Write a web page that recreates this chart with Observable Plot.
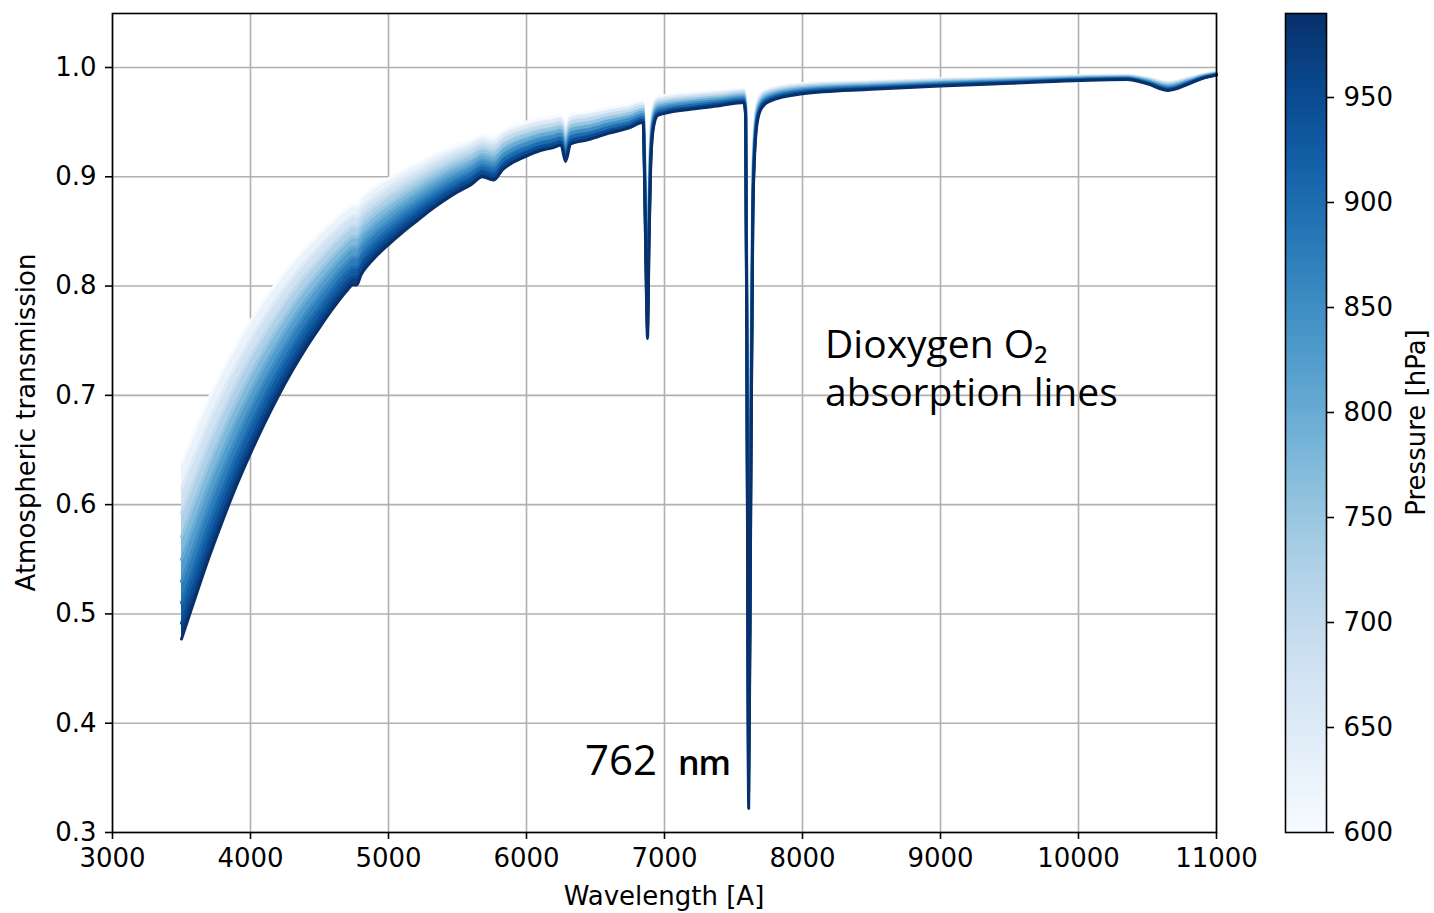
<!DOCTYPE html>
<html><head><meta charset="utf-8">
<script src="https://cdn.jsdelivr.net/npm/d3@7"></script>
<script src="https://cdn.jsdelivr.net/npm/@observablehq/plot@0.6"></script>
<style>
html,body{margin:0;padding:0;background:#fff;}
#wrap{position:relative;width:1434px;height:913px;overflow:hidden;}
#main{position:absolute;left:0;top:0;}
#cbar{position:absolute;left:1260px;top:0;}
svg{display:block;}
</style></head><body>
<div id="wrap"><div id="main"></div><div id="cbar"></div></div>
<script>
// ---------- data ----------
const wavelength = [3500,3550,3600,3700,3800,3900,4000,4100,4200,4300,
 4400,4500,4600,4700,4740,4770,4800,4850,4900,5000,
 5100,5200,5300,5400,5500,5600,5680,5760,5830,5900,
 6000,6100,6200,6250,6283,6320,6450,6600,6750,6845,
 6855,6865,6877,6888,6900,6920,6950,7000,7200,7400,
 7575,7588,7600,7610,7625,7640,7655,7675,7710,7760,
 8000,8500,9000,9500,10000,10350,10500,10650,10800,10900,11000];

const pressures = [600, 650, 700, 750, 800, 850, 900, 950, 990];

const trans600 = [0.6385,0.6538,0.6688,0.6977,0.7233,0.7470,0.7681,0.7873,0.8049,0.8208,
 0.8353,0.8481,0.8602,0.8708,0.8741,0.8741,0.8801,0.8860,0.8907,0.8984,
 0.9056,0.9120,0.9184,0.9241,0.9293,0.9337,0.9381,0.9362,0.9425,0.9463,
 0.9501,0.9532,0.9551,0.9564,0.9470,0.9570,0.9594,0.9632,0.9663,0.9694,
 0.9381,0.8867,0.8414,0.8997,0.9444,0.9663,0.9731,0.9743,0.9768,0.9786,
 0.9805,0.9725,0.7485,0.5032,0.7337,0.9127,0.9538,0.9706,0.9780,0.9811,
 0.9854,0.9878,0.9897,0.9912,0.9927,0.9933,0.9909,0.9872,0.9909,0.9939,0.9958];
const trans650 = [0.6151,0.6310,0.6467,0.6771,0.7040,0.7291,0.7514,0.7718,0.7905,0.8074,
 0.8229,0.8365,0.8495,0.8608,0.8644,0.8644,0.8708,0.8771,0.8821,0.8904,
 0.8981,0.9050,0.9119,0.9181,0.9236,0.9284,0.9331,0.9311,0.9379,0.9420,
 0.9461,0.9494,0.9515,0.9528,0.9427,0.9535,0.9561,0.9602,0.9635,0.9669,
 0.9331,0.8779,0.8294,0.8918,0.9399,0.9635,0.9709,0.9722,0.9749,0.9768,
 0.9789,0.9703,0.7307,0.4752,0.7150,0.9058,0.9500,0.9682,0.9762,0.9795,
 0.9842,0.9868,0.9889,0.9905,0.9921,0.9927,0.9901,0.9862,0.9901,0.9934,0.9954];
const trans700 = [0.5925,0.6091,0.6254,0.6571,0.6853,0.7116,0.7351,0.7566,0.7763,0.7942,
 0.8106,0.8251,0.8389,0.8510,0.8547,0.8547,0.8616,0.8683,0.8737,0.8825,
 0.8907,0.8981,0.9055,0.9121,0.9180,0.9231,0.9282,0.9260,0.9333,0.9377,
 0.9420,0.9456,0.9478,0.9493,0.9384,0.9500,0.9528,0.9572,0.9608,0.9644,
 0.9282,0.8691,0.8175,0.8840,0.9354,0.9608,0.9687,0.9701,0.9730,0.9751,
 0.9773,0.9680,0.7132,0.4488,0.6968,0.8989,0.9463,0.9658,0.9744,0.9780,
 0.9830,0.9858,0.9880,0.9897,0.9915,0.9922,0.9894,0.9851,0.9894,0.9929,0.9951];
const trans750 = [0.5708,0.5879,0.6048,0.6377,0.6670,0.6945,0.7191,0.7417,0.7624,0.7813,
 0.7985,0.8139,0.8285,0.8412,0.8452,0.8452,0.8525,0.8596,0.8653,0.8747,
 0.8834,0.8912,0.8991,0.9061,0.9124,0.9178,0.9233,0.9209,0.9287,0.9334,
 0.9380,0.9419,0.9442,0.9458,0.9342,0.9465,0.9495,0.9542,0.9580,0.9619,
 0.9233,0.8604,0.8058,0.8762,0.9310,0.9580,0.9665,0.9680,0.9711,0.9733,
 0.9757,0.9658,0.6962,0.4238,0.6790,0.8921,0.9426,0.9634,0.9726,0.9764,
 0.9818,0.9848,0.9872,0.9890,0.9909,0.9916,0.9886,0.9841,0.9886,0.9924,0.9947];
const trans800 = [0.5498,0.5674,0.5848,0.6188,0.6493,0.6778,0.7035,0.7271,0.7487,0.7686,
 0.7866,0.8028,0.8181,0.8316,0.8358,0.8358,0.8435,0.8510,0.8570,0.8669,
 0.8761,0.8844,0.8927,0.9002,0.9068,0.9126,0.9184,0.9159,0.9241,0.9291,
 0.9340,0.9381,0.9406,0.9423,0.9300,0.9430,0.9462,0.9512,0.9553,0.9594,
 0.9184,0.8518,0.7943,0.8686,0.9266,0.9553,0.9643,0.9659,0.9692,0.9716,
 0.9741,0.9636,0.6796,0.4002,0.6617,0.8853,0.9389,0.9611,0.9708,0.9749,
 0.9806,0.9838,0.9863,0.9883,0.9903,0.9911,0.9879,0.9830,0.9879,0.9919,0.9944];
const trans850 = [0.5296,0.5477,0.5655,0.6005,0.6320,0.6616,0.6882,0.7128,0.7353,0.7560,
 0.7749,0.7919,0.8079,0.8221,0.8265,0.8265,0.8345,0.8425,0.8488,0.8592,
 0.8689,0.8777,0.8864,0.8943,0.9013,0.9074,0.9135,0.9109,0.9196,0.9248,
 0.9300,0.9344,0.9370,0.9388,0.9258,0.9396,0.9430,0.9483,0.9526,0.9569,
 0.9135,0.8433,0.7830,0.8609,0.9222,0.9526,0.9621,0.9638,0.9673,0.9699,
 0.9725,0.9614,0.6634,0.3780,0.6449,0.8786,0.9352,0.9587,0.9690,0.9734,
 0.9794,0.9828,0.9855,0.9875,0.9897,0.9905,0.9871,0.9820,0.9871,0.9913,0.9940];
const trans900 = [0.5102,0.5286,0.5468,0.5828,0.6151,0.6457,0.6732,0.6987,0.7221,0.7437,
 0.7634,0.7811,0.7979,0.8127,0.8172,0.8172,0.8257,0.8340,0.8406,0.8516,
 0.8617,0.8710,0.8801,0.8884,0.8958,0.9022,0.9086,0.9059,0.9151,0.9206,
 0.9261,0.9307,0.9334,0.9353,0.9216,0.9362,0.9397,0.9453,0.9498,0.9544,
 0.9086,0.8349,0.7718,0.8534,0.9178,0.9498,0.9599,0.9617,0.9654,0.9682,
 0.9709,0.9593,0.6476,0.3569,0.6285,0.8719,0.9316,0.9564,0.9673,0.9719,
 0.9782,0.9819,0.9846,0.9868,0.9891,0.9900,0.9863,0.9809,0.9863,0.9908,0.9937];
const trans950 = [0.4915,0.5102,0.5288,0.5656,0.5988,0.6302,0.6586,0.6849,0.7092,0.7316,
 0.7520,0.7704,0.7879,0.8034,0.8081,0.8081,0.8170,0.8256,0.8326,0.8440,
 0.8546,0.8643,0.8739,0.8826,0.8904,0.8971,0.9038,0.9009,0.9106,0.9164,
 0.9221,0.9270,0.9298,0.9318,0.9174,0.9328,0.9365,0.9424,0.9471,0.9520,
 0.9038,0.8266,0.7608,0.8459,0.9134,0.9471,0.9577,0.9596,0.9635,0.9665,
 0.9694,0.9571,0.6321,0.3371,0.6125,0.8653,0.9280,0.9541,0.9656,0.9704,
 0.9771,0.9809,0.9838,0.9861,0.9885,0.9894,0.9856,0.9799,0.9856,0.9903,0.9933];
const trans990 = [0.477,0.496,0.515,0.552,0.586,0.618,0.647,0.674,0.699,0.722,
 0.743,0.762,0.780,0.796,0.801,0.801,0.810,0.819,0.826,0.838,
 0.849,0.859,0.869,0.878,0.886,0.893,0.900,0.897,0.907,0.913,
 0.919,0.924,0.927,0.929,0.914,0.930,0.934,0.940,0.945,0.950,
 0.900,0.820,0.752,0.840,0.910,0.945,0.956,0.958,0.962,0.965,
 0.968,0.955,0.620,0.322,0.600,0.860,0.925,0.952,0.964,0.969,
 0.976,0.980,0.983,0.9855,0.988,0.989,0.985,0.979,0.985,0.990,0.993];

const xTicks = [3000, 4000, 5000, 6000, 7000, 8000, 9000, 10000, 11000];
const yTicks = [0.3, 0.4, 0.5, 0.6, 0.7, 0.8, 0.9, 1.0];
const colorbarTicks = [600, 650, 700, 750, 800, 850, 900, 950];

const xLabel = "Wavelength [A]";
const yLabel = "Atmospheric transmission";
const colorLabel = "Pressure [hPa]";
const noteText = ["Dioxygen O₂", "absorption lines", "762", "nm"];
const noteX = [8167, 8167, 6428, 7101];
const noteY = [0.7337, 0.6898, 0.3522, 0.3522];

// ---------- tables ----------
const series = [trans600, trans650, trans700, trans750, trans800, trans850, trans900, trans950, trans990];
const lineRows = [];
series.forEach((s, k) => wavelength.forEach((w, i) => lineRows.push({w, t: s[i], p: pressures[k]})));
const bandRows = [];
for (let k = 0; k < series.length - 1; k++) {
  wavelength.forEach((w, i) => bandRows.push({
    w, hi: series[k][i], lo: series[k + 1][i],
    mid: (pressures[k] + pressures[k + 1]) / 2, band: k
  }));
}

const colorScale = {type: "linear", domain: [600, 990], scheme: "blues"};
const FONT = "'DejaVu Sans', sans-serif";
const baseStyle = {fontFamily: FONT, fontSize: "26px", color: "black", background: "white", overflow: "visible"};
const gridStyle = {stroke: "#b0b0b0", strokeOpacity: 1, strokeWidth: 1.6};

const main = Plot.plot({
  width: 1260, height: 913,
  marginLeft: 112, marginRight: 44, marginTop: 13, marginBottom: 81,
  style: baseStyle,
  x: {domain: [3000, 11000]},
  y: {domain: [0.3, 1.0494]},
  color: colorScale,
  marks: [
    Plot.gridX(xTicks, gridStyle),
    Plot.gridY(yTicks, gridStyle),
    Plot.areaY(bandRows, {x: "w", y1: "lo", y2: "hi", z: "band", fill: "mid", curve: "monotone-x"}),
    Plot.line(lineRows, {x: "w", y: "t", z: "p", stroke: "p", strokeWidth: 3, curve: "monotone-x"}),
    Plot.frame({stroke: "black", strokeWidth: 1.6}),
    Plot.axisX(xTicks, {tickSize: 7, tickPadding: 9, tickFormat: d => String(d), label: null, strokeWidth: 1.6}),
    Plot.axisY(yTicks, {tickSize: 7, tickPadding: 9, tickFormat: d => d.toFixed(1), label: null, strokeWidth: 1.6})
  ]
});
document.getElementById("main").appendChild(main);

const sx = main.scale("x"), sy = main.scale("y");
const [xr0, xr1] = sx.range, [yr0, yr1] = sy.range;
const msvg = d3.select(main);
// axis titles
msvg.append("text").attr("font-family", FONT).attr("font-size", 26).attr("fill", "black")
  .attr("text-anchor", "middle").attr("x", (xr0 + xr1) / 2).attr("y", Math.max(yr0, yr1) + 73)
  .text(xLabel);
msvg.append("text").attr("font-family", FONT).attr("font-size", 26).attr("fill", "black")
  .attr("text-anchor", "middle").attr("dy", "0.32em")
  .attr("transform", `translate(${xr0 - 85},${(yr0 + yr1) / 2}) rotate(-90)`)
  .text(yLabel);

// annotations placed through the chart scales
const g = msvg.append("g").attr("font-family", "'Open Sans', 'DejaVu Sans', sans-serif").attr("fill", "black").attr("text-anchor", "start");
const t1 = g.append("text").attr("x", sx.apply(noteX[0])).attr("y", sy.apply(noteY[0])).attr("font-size", 39);
t1.append("tspan").text(noteText[0]);
t1.append("tspan").attr("x", sx.apply(noteX[1])).attr("y", sy.apply(noteY[1])).text(noteText[1]);
const t2 = g.append("text").attr("x", sx.apply(noteX[2])).attr("y", sy.apply(noteY[2])).attr("font-size", 42);
t2.append("tspan").text(noteText[2]);
t2.append("tspan").attr("x", sx.apply(noteX[3])).attr("font-size", 34).attr("font-weight", 600).attr("letter-spacing", -1).text(noteText[3]);

// colorbar
const cbSteps = d3.range(600, 990, 2);
const cbar = Plot.plot({
  width: 174, height: 913,
  marginLeft: 25, marginRight: 108, marginTop: 13, marginBottom: 81,
  style: baseStyle,
  x: {domain: [0, 1], axis: null},
  y: {domain: [600, 990], axis: null},
  color: colorScale,
  marks: [
    Plot.rect(cbSteps, {x1: d => 0, x2: d => 1, y1: d => d, y2: d => d + 2, fill: d => d + 1, shapeRendering: "crispEdges"}),
    Plot.frame({stroke: "black", strokeWidth: 1.6}),
    Plot.axisY(colorbarTicks, {anchor: "right", tickSize: 7, tickPadding: 10, label: null, strokeWidth: 1.6})
  ]
});
document.getElementById("cbar").appendChild(cbar);
const cy = cbar.scale("y");
d3.select(cbar).append("text").attr("font-family", FONT).attr("font-size", 26).attr("fill", "black")
  .attr("text-anchor", "middle").attr("dy", "0.32em")
  .attr("transform", `translate(157,${(cy.range[0] + cy.range[1]) / 2}) rotate(-90)`)
  .text(colorLabel);
</script></body></html>
